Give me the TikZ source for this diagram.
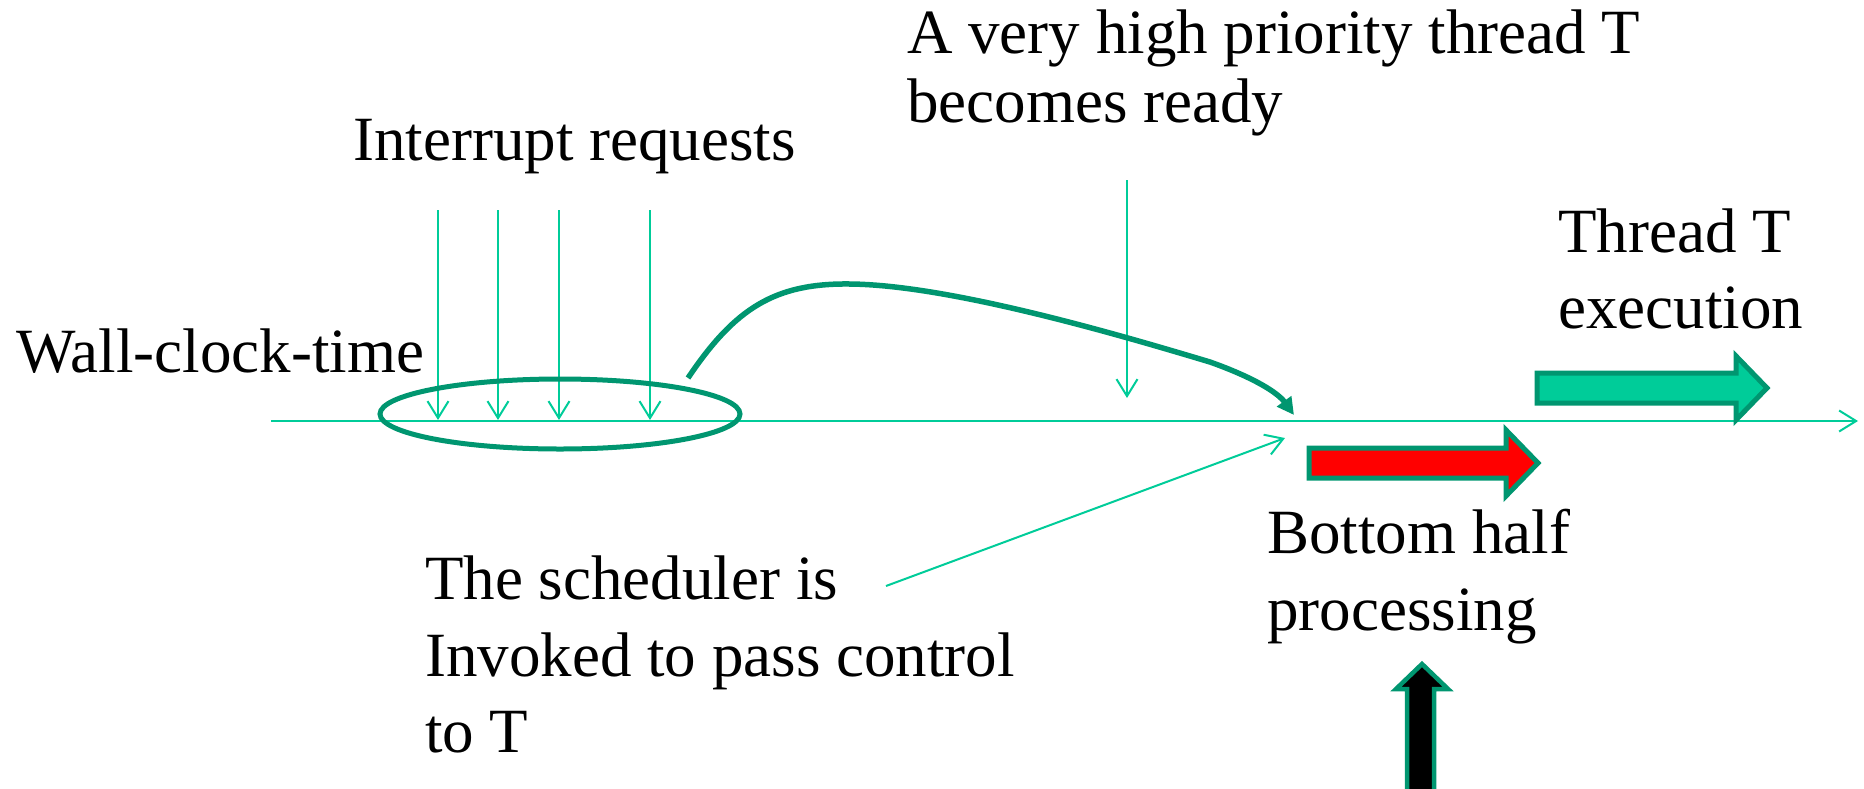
\documentclass[tikz,border=0pt]{standalone}
\usepackage{fontspec}
\setmainfont{LiberationSerif}[Extension=.ttf,UprightFont=*-Regular,BoldFont=*-Bold,ItalicFont=*-Italic,BoldItalicFont=*-BoldItalic]
\usetikzlibrary{arrows.meta,shapes.geometric}
\definecolor{lightg}{RGB}{0,204,153}
\definecolor{darkg}{RGB}{0,150,112}
\begin{document}
\begin{tikzpicture}[x=1pt,y=-1pt,
  txt/.style={anchor=base west,inner sep=0pt,font=\fontsize{63}{77}\selectfont},
  conn/.style={draw=lightg,line width=2pt,-{Straight Barb[length=17pt,width=21pt,line width=2pt]}},
  bigcurve/.style={draw=darkg,line width=5.5pt,-{Triangle[length=17pt,width=17pt]}},
  blockarrow/.style={draw=darkg,line width=5pt,line join=miter}]
\useasboundingbox (0,0) rectangle (1864,788);
% texts
\node[txt] (irqtxt) at (353,160) {Interrupt requests};
\node[txt] (hp1) at (907,53) {A very high priority thread T};
\node[txt] (hp2) at (907,122) {becomes ready};
\node[txt] (wct) at (16,372) {Wall-clock-time};
\node[txt] (te1) at (1558,252) {Thread T};
\node[txt] (te2) at (1558,328) {execution};
\node[txt] (bh1) at (1267,553) {Bottom half};
\node[txt] (bh2) at (1267,630) {processing};
\node[txt] (sc1) at (425,599) {The scheduler is};
\node[txt] (sc2) at (425,676) {Invoked to pass control};
\node[txt] (sc3) at (425,752) {to T};
% timeline
\coordinate (tl0) at (271,421);
\coordinate (tl1) at (1858,421);
\draw[conn] (tl0) -- (tl1);
% interrupt arrows
\foreach \x/\n in {438/a,498/b,559/c,650/d}{
  \coordinate (it\n) at (\x,210);
  \coordinate (ib\n) at (\x,420);
  \draw[conn] (it\n) -- (ib\n);
}
% thread T ready arrow
\coordinate (rt) at (1127,180);
\coordinate (rb) at (1127,398);
\draw[conn] (rt) -- (rb);
% ellipse
\node[ellipse,draw=darkg,line width=5pt,minimum width=360pt,minimum height=70pt,inner sep=0pt] (irq) at (560,414) {};
% big curve
\coordinate (cs) at (688,378);
\coordinate (cp) at (850,284);
\coordinate (cm) at (1210,362);
\coordinate (ce) at (1294,415);
\draw[bigcurve] (cs) .. controls (735,308) and (775,283) .. (cp)
  .. controls (950,285) and (1120,335) .. (cm)
  .. controls (1255,378) and (1278,393) .. (ce);
% scheduler arrow
\coordinate (ss) at (886,586);
\coordinate (se) at (1285,438);
\draw[conn] (ss) -- (se);
% green block arrow (thread T execution)
\draw[blockarrow,fill=lightg] (1537,373) -- (1736,373) -- (1736,356) -- (1767,388) -- (1736,420) -- (1736,403) -- (1537,403) -- cycle;
% red block arrow (bottom half)
\draw[blockarrow,fill=red] (1309,448) -- (1506,448) -- (1506,430) -- (1538,463) -- (1506,496) -- (1506,478) -- (1309,478) -- cycle;
% black up arrow
\draw[blockarrow,line width=4.5pt,fill=black] (1407,800) -- (1407,689) -- (1396,689) -- (1422,664) -- (1448,689) -- (1434,689) -- (1434,800) -- cycle;
\end{tikzpicture}
\end{document}
